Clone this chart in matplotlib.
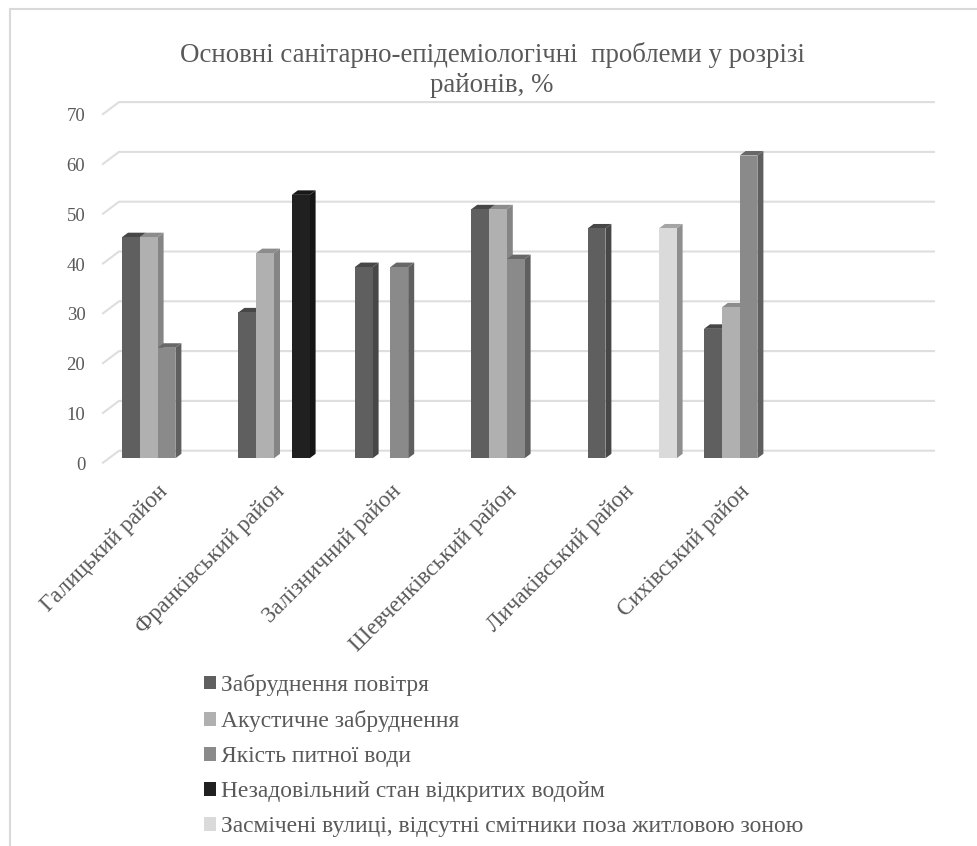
import matplotlib
matplotlib.use("Agg")
import matplotlib.pyplot as plt
from matplotlib.patches import Polygon, Patch, Rectangle
from matplotlib.transforms import ScaledTranslation

# Chart data
districts = ["Галицький район", "Франківський район", "Залізничний район",
             "Шевченківський район", "Личаківський район", "Сихівський район"]
air = [44.4, 29.3, 38.4, 50.0, 46.15, 26.0]
noise = [44.4, 41.2, 0, 50.0, 0, 30.3]
water = [22.2, 0, 38.4, 40.0, 0, 60.8]
reservoirs = [0, 52.9, 0, 0, 0, 0]
litter = [0, 0, 0, 0, 46.15, 0]
series_names = ["Забруднення повітря", "Акустичне забруднення", "Якість питної води",
                "Незадовільний стан відкритих водойм",
                "Засмічені вулиці, відсутні смітники поза житловою зоною"]
yticks = [0, 10, 20, 30, 40, 50, 60, 70]
title = "Основні санітарно-епідеміологічні  проблеми у розрізі\nрайонів, %"

# (front, top, side) shades for each series
FRONT = ["#5f5f5f", "#b0b0b0", "#8a8a8a", "#202020", "#dadada"]
TOP = ["#474747", "#8c8c8c", "#686868", "#181818", "#a5a5a5"]
SIDE = ["#474747", "#858585", "#5f5f5f", "#161616", "#8f8f8f"]
TEXT = "#595959"
GRID = "#dedede"

W, H = 978, 846
PX_X = 116.4      # pixels per category
PX_Y = 4.98       # pixels per value unit
X0, Y0 = 166.5, 458.3   # pixel position of category 0 centre, value 0
LEFT, RIGHT = 103, 918  # front edge of the plot
TOP_Y = 109.7

plt.rcParams["font.family"] = ["Liberation Serif", "DejaVu Serif"]

fig = plt.figure(figsize=(W / 100, H / 100), dpi=100)
ax = fig.add_axes([LEFT / W, 1 - Y0 / H, (RIGHT - LEFT) / W, (Y0 - TOP_Y) / H])
ax.set_xlim((LEFT - X0) / PX_X, (RIGHT - X0) / PX_X)
ax.set_ylim(0, (Y0 - TOP_Y) / PX_Y)
for s in ax.spines.values():
    s.set_visible(False)
ax.patch.set_alpha(0)

# outer chart frame
fig.add_artist(Rectangle((9.5 / W, -0.01), 2, 1 - 9.5 / H + 0.01, transform=fig.transFigure,
                         fill=False, ec="#d9d9d9", lw=1.5))

# pixel offsets converted to data units
def dx(px):
    return px / PX_X

def dy(px):
    return px / PX_Y

# wall gridlines with the short floor stubs on the left
wall_x = dx(16)
for v in yticks:
    y_back = v + dy(7.6)
    ax.plot([ax.get_xlim()[0], ax.get_xlim()[0] + wall_x, ax.get_xlim()[1] + wall_x],
            [y_back - dy(12), y_back, y_back],
            color=GRID, lw=1.5, clip_on=False, zorder=1, solid_joinstyle="miter")

# bars, each with a front face, a top and a right side
bar_w = 17.8 / PX_X
depth_x, depth_y = dx(6), dy(4.5)
all_series = [air, noise, water, reservoirs, litter]

for i, vals in enumerate(all_series):
    for j, v in enumerate(vals):
        if v == 0:
            continue
        x = j + (i - 2.5) * bar_w
        ax.add_patch(Polygon([(x + bar_w, 0), (x + bar_w + depth_x, depth_y),
                              (x + bar_w + depth_x, v + depth_y), (x + bar_w, v)],
                             fc=SIDE[i], ec="none", clip_on=False, zorder=2 + i * 0.1))
        ax.add_patch(Polygon([(x, v), (x + depth_x, v + depth_y),
                              (x + bar_w + depth_x, v + depth_y), (x + bar_w, v)],
                             fc=TOP[i], ec="none", clip_on=False, zorder=2 + i * 0.1))
        ax.add_patch(Rectangle((x, 0), bar_w, v, fc=FRONT[i], ec="none",
                               clip_on=False, zorder=3 + i * 0.1))

ax.set_yticks(yticks)
ax.set_xticks(range(len(districts)))
ax.set_xticklabels(districts, rotation=45, ha="right", rotation_mode="anchor",
                   fontsize=16.6, color=TEXT)
ax.tick_params(length=0)
ax.tick_params(axis="y", labelsize=13.5, labelcolor=TEXT, pad=12.7)
ax.tick_params(axis="x", pad=16.4)

# tick labels sit on the front ends of the stubs, not on the bar plane
shift_y = ScaledTranslation(0, -5 / 100, fig.dpi_scale_trans)
for lab in ax.get_yticklabels():
    lab.set_transform(lab.get_transform() + shift_y)
shift_x = ScaledTranslation(-9 / 100, 0, fig.dpi_scale_trans)
for lab in ax.get_xticklabels():
    lab.set_transform(lab.get_transform() + shift_x)

fig.text(492 / W, 1 - 70 / H, title, ha="center", va="center", fontsize=19.4,
         color=TEXT, linespacing=1.28)

handles = [Patch(fc=c, ec="none") for c in FRONT]
fig.legend(handles, series_names, loc="upper left", bbox_to_anchor=(204 / W, 1 - 674 / H),
           frameon=False, fontsize=16.9, labelcolor=TEXT, handlelength=0.51, handleheight=0.51,
           handletextpad=0.22, labelspacing=0.6, borderpad=0, borderaxespad=0)

fig.savefig("out.png", dpi=100, facecolor="white")
